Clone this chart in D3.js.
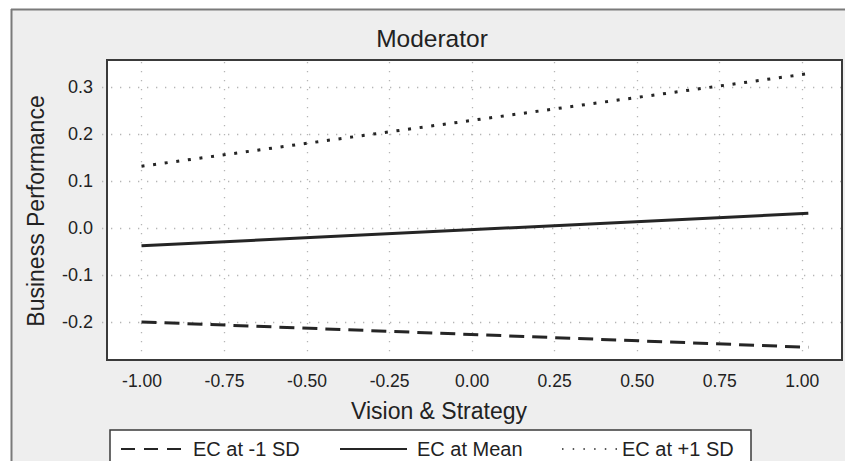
<!DOCTYPE html>
<html>
<head>
<meta charset="utf-8">
<script src="https://cdn.jsdelivr.net/npm/d3@7"></script>
<style>
  body { margin: 0; background: #fff; }
  text { font-family: "Liberation Sans", Arial, sans-serif; fill: #222; }
</style>
</head>
<body>
<div id="chart"></div>
<script>
var W = 845, H = 461;

// data: simple slopes at the moderator levels
var xEnds = [-1.00, 1.02];
var seriesNames = ["EC at -1 SD", "EC at Mean", "EC at +1 SD"];
var lowSD = [-0.200, -0.254];
var meanVals = [-0.038, 0.031];
var highSD = [0.131, 0.328];
var xTicks = [-1.00, -0.75, -0.50, -0.25, 0.00, 0.25, 0.50, 0.75, 1.00];
var yTicks = [-0.2, -0.1, 0.0, 0.1, 0.2, 0.3];

var plot = { left: 107, right: 842, top: 60, bottom: 360 };

var x = d3.scaleLinear().domain([-1.1045, 1.122]).range([plot.left, plot.right]);
var y = d3.scaleLinear().domain([-0.281, 0.357]).range([plot.bottom, plot.top]);

var svg = d3.select("#chart").append("svg")
    .attr("width", W)
    .attr("height", H);

// outer panel
svg.append("rect")
    .attr("x", 11).attr("y", 9)
    .attr("width", W).attr("height", H)
    .attr("fill", "#eeeeee");
svg.append("line").attr("x1", 11).attr("x2", W).attr("y1", 9.5).attr("y2", 9.5)
    .attr("stroke", "#7a7a7a").attr("stroke-width", 2);
svg.append("line").attr("x1", 11.5).attr("x2", 11.5).attr("y1", 9).attr("y2", H)
    .attr("stroke", "#7a7a7a").attr("stroke-width", 2);

// plot background
svg.append("rect")
    .attr("x", plot.left).attr("y", plot.top)
    .attr("width", plot.right - plot.left).attr("height", plot.bottom - plot.top)
    .attr("fill", "#fff");

// grid
var grid = svg.append("g").attr("stroke", "#b5b5b5").attr("stroke-width", 1.3)
    .attr("stroke-dasharray", "1.3,7.7");
grid.selectAll(".gx").data(xTicks).enter().append("line")
    .attr("x1", function(d) { return Math.round(x(d)) + 0.5; })
    .attr("x2", function(d) { return Math.round(x(d)) + 0.5; })
    .attr("y1", plot.top + 2).attr("y2", plot.bottom + 6);
grid.selectAll(".gy").data(yTicks).enter().append("line")
    .attr("y1", function(d) { return Math.round(y(d)) + 0.5; })
    .attr("y2", function(d) { return Math.round(y(d)) + 0.5; })
    .attr("x1", plot.left - 5).attr("x2", plot.right);

// frame
svg.append("rect")
    .attr("x", plot.left).attr("y", plot.top)
    .attr("width", plot.right - plot.left).attr("height", plot.bottom - plot.top)
    .attr("fill", "none").attr("stroke", "#3a3a3a").attr("stroke-width", 2);

// axes labels
var xAxis = d3.axisBottom(x).tickValues(xTicks).tickSize(0).tickPadding(15);
var gx = svg.append("g").attr("transform", "translate(0," + plot.bottom + ")").call(xAxis);
gx.select(".domain").remove();
gx.selectAll("text").attr("font-size", 17.5).attr("fill", "#222")
    .text(function(d) { return d3.format(".2f")(d).replace("−", "-"); });

var yAxis = d3.axisLeft(y).tickValues(yTicks).tickSize(0).tickPadding(14);
var gy = svg.append("g").attr("transform", "translate(" + plot.left + ",0)").call(yAxis);
gy.select(".domain").remove();
gy.selectAll("text").attr("font-size", 18).attr("fill", "#222")
    .text(function(d) { return d3.format(".1f")(d).replace("−", "-"); });

// titles
svg.append("text").attr("x", 432).attr("y", 47).attr("text-anchor", "middle")
    .attr("font-size", 24.5).text("Moderator");
svg.append("text").attr("x", 439).attr("y", 419).attr("text-anchor", "middle")
    .attr("font-size", 23).text("Vision & Strategy");
svg.append("text").attr("transform", "translate(44," + 211 + ") rotate(-90)")
    .attr("text-anchor", "middle").attr("font-size", 23).text("Business Performance");

// lines
var dashes = ["15,8", null, "3,8.7"];
var allSeries = [lowSD, meanVals, highSD];
var line = d3.line()
    .x(function(d, i) { return x(xEnds[i]); })
    .y(function(d) { return y(d); });

svg.selectAll(".series").data(allSeries).enter().append("path")
    .attr("d", line)
    .attr("fill", "none")
    .attr("stroke", "#252525")
    .attr("stroke-width", 3)
    .attr("stroke-dasharray", function(d, i) { return dashes[i]; });

// legend
var leg = svg.append("g");
leg.append("rect").attr("x", 110).attr("y", 430).attr("width", 641).attr("height", 40)
    .attr("fill", "#fff").attr("stroke", "#3a3a3a").attr("stroke-width", 1.5);

var legItems = [
  { x0: 121, x1: 182, tx: 193, dash: "14,9", w: 2 },
  { x0: 340, x1: 407, tx: 417, dash: null, w: 2 },
  { x0: 562, x1: 617, tx: 622, dash: "1.5,9.2", w: 1.5 }
];
legItems.forEach(function(it, i) {
  leg.append("line").attr("x1", it.x0).attr("x2", it.x1).attr("y1", 449).attr("y2", 449)
      .attr("stroke", "#252525").attr("stroke-width", it.w)
      .attr("stroke-dasharray", it.dash);
  leg.append("text").attr("x", it.tx).attr("y", 456).attr("font-size", 20)
      .text(seriesNames[i]);
});
</script>
</body>
</html>
